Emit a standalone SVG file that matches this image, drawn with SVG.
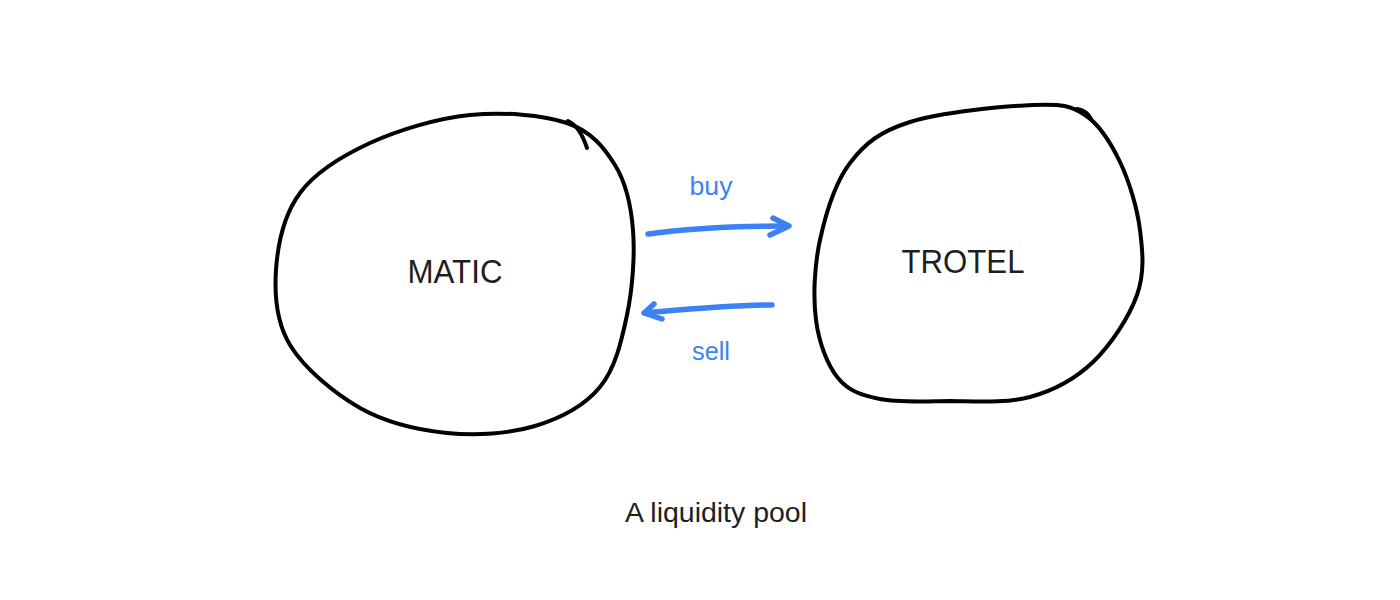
<svg xmlns="http://www.w3.org/2000/svg" width="1400" height="600" viewBox="0 0 1400 600">
  <style>
    .blob { fill: none; stroke: #000; stroke-width: 4; stroke-linecap: round; stroke-linejoin: round; }
    .arrow { fill: none; stroke: #3d82f5; stroke-width: 5.5; stroke-linecap: round; stroke-linejoin: round; }
    .label { font-family: "Liberation Sans", Arial, sans-serif; fill: #1e1e1e; text-anchor: middle; }
    .edge-label { font-family: "Liberation Sans", Arial, sans-serif; fill: #3d82f5; text-anchor: middle; font-size: 26px; }
  </style>
  <rect width="1400" height="600" fill="#ffffff"/>

  <g id="matic">
    <path class="blob" d="M470,115 C502.8,111.7 542.8,114.7 567,123 C591.2,131.3 604,147.2 615,165 C626,182.8 631,205 633,230 C635,255 632.5,288.8 627,315 C621.5,341.2 615.3,368.5 600,387 C584.7,405.5 560.5,418.3 535,426 C509.5,433.7 476.2,436 447,433 C417.8,430 386.2,422.7 360,408 C333.8,393.3 304,368 290,345 C276,322 274.3,295.3 276,270 C277.7,244.7 284.3,214.2 300,193 C315.7,171.8 341.7,156 370,143 C398.3,130 437.2,118.3 470,115 Z"/>
    <path class="blob" d="M568,121 C577,125 583,136 587,148"/>
    <text class="label" x="455" y="283" font-size="34" textLength="95" lengthAdjust="spacingAndGlyphs">MATIC</text>
  </g>

  <g id="trotel">
    <path class="blob" d="M1033,105 C1062.2,103.8 1070.5,105.5 1085,115 C1099.5,124.5 1110.8,142.8 1120,162 C1129.2,181.2 1137.2,207.8 1140,230 C1142.8,252.2 1144.8,273 1137,295 C1129.2,317 1110.8,345 1093,362 C1075.2,379 1053.8,390.5 1030,397 C1006.2,403.5 975,401.3 950,401 C925,401.3 898.7,402.8 880,399 C861.3,395.2 848.7,391.2 838,378 C827.3,364.8 819,343 816,320 C813,297 814.3,266.2 820,240 C825.7,213.8 835,182.7 850,163 C865,143.3 879.5,131.7 910,122 C940.5,112.3 1003.8,106.2 1033,105 Z"/>
    <path class="blob" d="M1077,109 C1083,110 1088,113 1091,119"/>
    <text class="label" x="963" y="273" font-size="34" textLength="123" lengthAdjust="spacingAndGlyphs">TROTEL</text>
  </g>

  <g id="connectors">
    <g id="buy-arrow">
      <path class="arrow" d="M648,234 C690,228 740,226 788,226"/>
      <path class="arrow" d="M773,218 L789,226 L770,235"/>
      <text class="edge-label" x="711" y="195" textLength="43" lengthAdjust="spacingAndGlyphs">buy</text>
    </g>
    <g id="sell-arrow">
      <path class="arrow" d="M772,305 C730,305 690,309 645,313"/>
      <path class="arrow" d="M654,304 L644,313 L662,319"/>
      <text class="edge-label" x="711" y="360" textLength="38" lengthAdjust="spacingAndGlyphs">sell</text>
    </g>
  </g>

  <g id="caption">
    <text class="label" x="716" y="522" font-size="27" textLength="182" lengthAdjust="spacingAndGlyphs">A liquidity pool</text>
  </g>
</svg>
